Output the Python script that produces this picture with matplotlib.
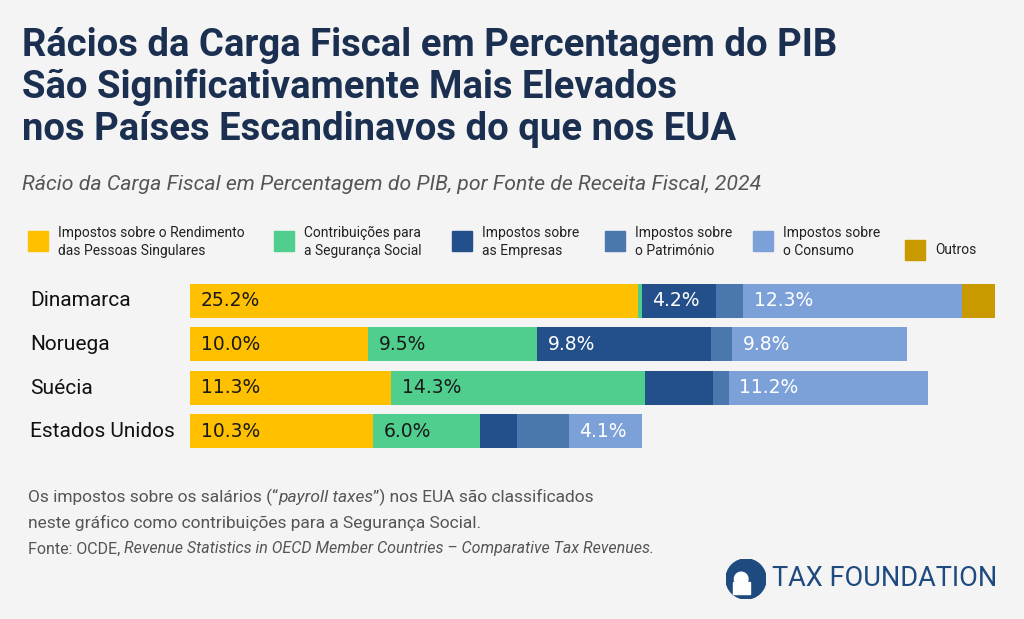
import matplotlib.pyplot as plt
from matplotlib.patches import Circle
from matplotlib.offsetbox import TextArea, HPacker, AnchoredOffsetbox

countries = ["Dinamarca", "Noruega", "Suécia", "Estados Unidos"]
categories = ["Impostos sobre o Rendimento\ndas Pessoas Singulares",
              "Contribuições para\na Segurança Social",
              "Impostos sobre\nas Empresas",
              "Impostos sobre\no Património",
              "Impostos sobre\no Consumo",
              "Outros"]
values = [
    [25.2, 0.2, 4.2, 1.5, 12.3, 1.9],
    [10.0, 9.5, 9.8, 1.2, 9.8, 0.0],
    [11.3, 14.3, 3.8, 0.9, 11.2, 0.0],
    [10.3, 6.0, 2.1, 2.9, 4.1, 0.0],
]
colors = ["#FFC000", "#50CE8E", "#23508A", "#4A77AE", "#7CA1D9", "#C99A00"]
label_colors = ["#1a1a1a", "#1a1a1a", "white", "white", "white", "white"]

BG = "#F4F4F4"
NAVY = "#1B2F50"
W, H = 1024, 619
fig = plt.figure(figsize=(W / 100, H / 100), dpi=100, facecolor=BG)
plt.rcParams['font.family'] = ['Roboto', 'DejaVu Sans']

for i, line in enumerate(["Rácios da Carga Fiscal em Percentagem do PIB",
                          "São Significativamente Mais Elevados",
                          "nos Países Escandinavos do que nos EUA"]):
    fig.text(22 / W, 1 - (45 + i * 42) / H, line, fontsize=27.5, fontweight='bold',
             color=NAVY, va='center', ha='left')
fig.text(22 / W, 1 - 184 / H,
         "Rácio da Carga Fiscal em Percentagem do PIB, por Fonte de Receita Fiscal, 2024",
         fontsize=15.3, style='italic', color="#555555", va='center')

# legend
leg_x = [28, 274, 452, 605, 753, 905]
for x, lab, c in zip(leg_x, categories, colors):
    y = 241 if "\n" in lab else 250
    fig.patches.append(plt.Rectangle((x / W, 1 - (y + 10) / H), 20 / W, 20 / H,
                                     transform=fig.transFigure, color=c))
    fig.text((x + 30) / W, 1 - 242 / H if "\n" in lab else 1 - 250 / H, lab,
             fontsize=10, color="#222222", va='center', linespacing=1.35)

ax = fig.add_axes([190 / W, 1 - 453 / H, 834 / W, 174 / H])
ax.set_facecolor(BG)
ax.set_xlim(0, 834 / 17.78)
ax.set_ylim(3.5, -0.5)
ax.axis('off')
for r, (country, vals) in enumerate(zip(countries, values)):
    left = 0
    for v, c, tc in zip(vals, colors, label_colors):
        if v > 0:
            ax.barh(r, v, left=left, height=0.78, color=c)
            if v >= 4:
                ax.text(left + 0.6, r, f"{v:.1f}%", color=tc, fontsize=13.5,
                        va='center', ha='left', family='DejaVu Sans')
        left += v
    fig.text(30 / W, 1 - (301 + r * 43.5) / H, country, fontsize=15,
             color="#111111", va='center')


def rich(parts, y, size):
    boxes = [TextArea(s, textprops=dict(fontsize=size, color="#555555", style=st,
                                        family=['Roboto', 'DejaVu Sans'])) for s, st in parts]
    pack = HPacker(children=boxes, pad=0, sep=0, align='baseline')
    ab = AnchoredOffsetbox(loc='center left', child=pack, pad=0, frameon=False,
                           bbox_to_anchor=(28 / W, 1 - y / H),
                           bbox_transform=fig.transFigure, borderpad=0)
    fig.add_artist(ab)


rich([("Os impostos sobre os salários (\u201c", 'normal'), ("payroll taxes", 'italic'),
      ("\u201d) nos EUA são classificados", 'normal')], 497, 12.5)
rich([("neste gráfico como contribuições para a Segurança Social.", 'normal')], 523, 12.5)
rich([("Fonte: OCDE, ", 'normal'),
      ("Revenue Statistics in OECD Member Countries \u2013 Comparative Tax Revenues.", 'italic')],
     549, 11.5)

# logo
logo = fig.add_axes([726 / W, 1 - 599 / H, 40 / W, 40 / H])
logo.set_xlim(0, 1); logo.set_ylim(0, 1); logo.set_aspect('equal'); logo.axis('off')
logo.add_patch(Circle((0.5, 0.5), 0.5, color="#1F4A80"))
logo.add_patch(plt.Rectangle((0.18, 0.12), 0.42, 0.3, color="white"))
logo.add_patch(Circle((0.38, 0.5), 0.17, color="white"))
fig.text(772 / W, 1 - 578 / H, "TAX FOUNDATION", fontsize=19.5, color="#1F4A80",
         va='center', ha='left')

fig.savefig("out.png", dpi=100, facecolor=BG)
